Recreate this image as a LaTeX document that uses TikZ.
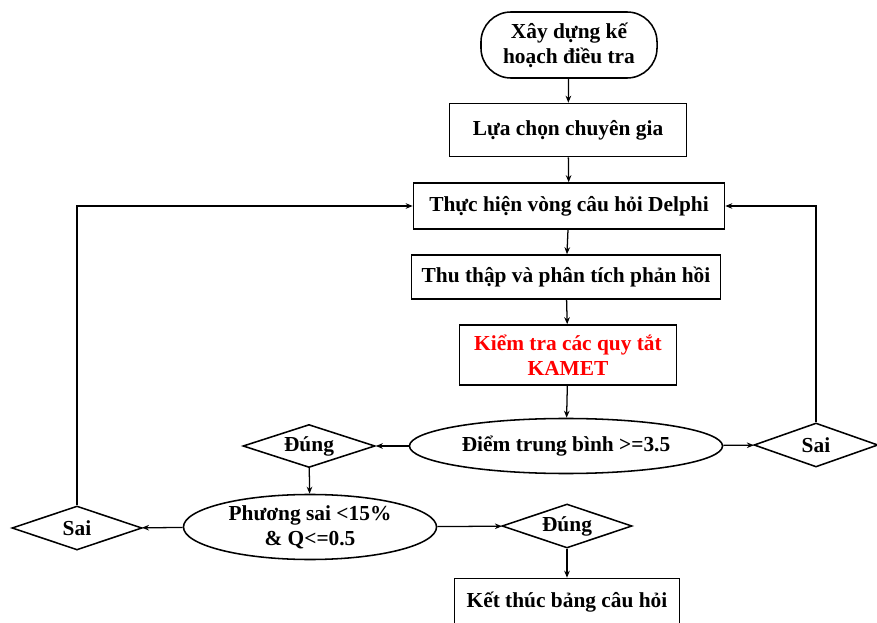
\documentclass[tikz,border=0pt]{standalone}
\usepackage{fontspec}
\setmainfont{Liberation Serif}
\usepackage{tikz}
\usetikzlibrary{shapes.geometric,arrows.meta,positioning}

\begin{document}
\begin{tikzpicture}[
    x=0.025cm, y=-0.025cm,
    every node/.style={font=\fontsize{15.2}{18}\selectfont\bfseries, align=center},
    termbox/.style={rectangle, draw, line width=1.1pt, rounded corners=0.75cm, minimum width=4.4cm, minimum height=1.65cm, inner sep=2pt},
    stepbox/.style={rectangle, draw, line width=1.1pt, inner sep=2pt},
    test/.style={ellipse, draw, line width=1.1pt, inner sep=0pt},
    choice/.style={diamond, aspect=3, draw, line width=1.1pt, inner sep=0pt, minimum width=3.25cm, minimum height=1.1cm},
    arrow/.style={-{Stealth[length=5pt,width=4pt]}, line width=0.9pt}
]
\useasboundingbox (0,0) rectangle (877,623);

% Main column
\node[termbox] (plan) at (569,45) {Xây dựng kế\\hoạch điều tra};
\node[stepbox, minimum width=5.925cm, minimum height=1.325cm] (expert) at (568,130) {Lựa chọn chuyên gia};
\node[stepbox, minimum width=7.775cm, minimum height=1.15cm] (round) at (569,206) {Thực hiện vòng câu hỏi Delphi};
\node[stepbox, minimum width=7.725cm, minimum height=1.1cm] (collect) at (566,277) {Thu thập và phân tích phản hồi};
\node[stepbox, minimum width=5.425cm, minimum height=1.5cm, text=red] (kamet) at (568,355) {Kiểm tra các quy tắt\\KAMET};

% Checks
\node[test, minimum width=7.825cm, minimum height=1.375cm] (mean) at (566,446) {Điểm trung bình >=3.5};
\node[choice, minimum width=3.1cm] (falseR) at (816,445) {Sai};
\node[choice, minimum width=3.3cm, minimum height=1.075cm] (trueL) at (309,446) {Đúng};
\node[test, minimum width=6.325cm, minimum height=1.625cm] (var) at (310,527) {Phương sai <15\%\\\& Q<=0.5};
\node[choice] (falseL) at (77,528) {Sai};
\node[choice] (trueB) at (567,526) {Đúng};
\node[stepbox, minimum width=5.625cm, minimum height=1.175cm] (finish) at (567,602) {Kết thúc bảng câu hỏi};

% Arrows - main flow
\draw[arrow] (plan) -- (expert);
\draw[arrow] (expert) -- (round);
\draw[arrow] (round) -- (collect);
\draw[arrow] (collect) -- (kamet);
\draw[arrow] (kamet) -- (mean);

% Arrows - decisions
\draw[arrow] (mean) -- (falseR);
\draw[arrow] (mean) -- (trueL);
\draw[arrow] (trueL) -- (var);
\draw[arrow] (var) -- (falseL);
\draw[arrow] (var) -- (trueB);
\draw[arrow] (trueB) -- (finish);

% Arrows - loops back
\draw[arrow] (falseR.north) |- (round.east);
\draw[arrow] (falseL.north) |- (round.west);

\end{tikzpicture}
\end{document}
